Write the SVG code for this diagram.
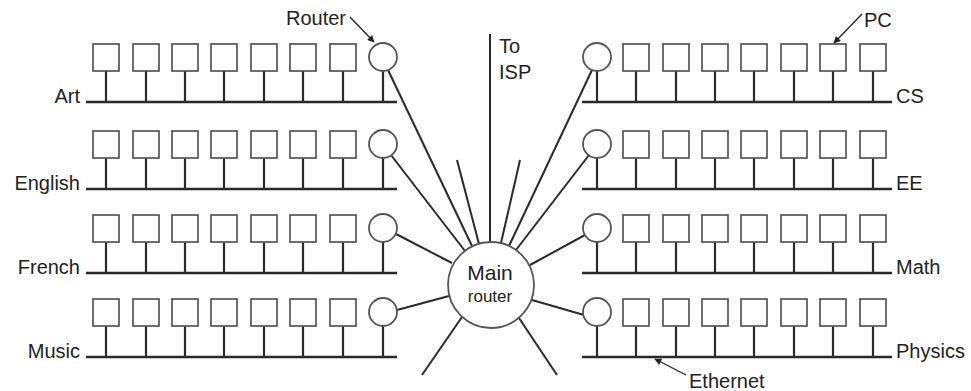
<svg xmlns="http://www.w3.org/2000/svg" xmlns:xlink="http://www.w3.org/1999/xlink" width="971" height="391" viewBox="0 0 971 391">
<style>
.bg{fill:#fff}
.box{fill:#fff;stroke:#555;stroke-width:1.7}
.stem{stroke:#2a2a2a;stroke-width:2.2}
.bus{stroke:#2a2a2a;stroke-width:2.6}
.rt{fill:#fff;stroke:#555;stroke-width:1.8}
.wire{stroke:#2a2a2a;stroke-width:2;fill:none}
.lead{stroke:#2a2a2a;stroke-width:1.4;fill:none}
text{font-family:"Liberation Sans",Arial,Helvetica,sans-serif;fill:#222;font-size:20px}
.end{text-anchor:end}
.mid{text-anchor:middle}
</style>
<defs>
<g id="pc"><line class="stem" x1="0" y1="27" x2="0" y2="58"/><rect class="box" x="-13" y="0" width="26" height="27"/></g>
<g id="rtr"><line class="stem" x1="0" y1="27" x2="0" y2="58"/><circle class="rt" cx="0" cy="13" r="14"/></g>
<marker id="ah" viewBox="0 0 10 10" refX="9" refY="5" markerWidth="9" markerHeight="7" markerUnits="userSpaceOnUse" orient="auto"><path d="M0,0 L10,5 L0,10 z" fill="#222"/></marker>
</defs>
<rect class="bg" x="0" y="0" width="971" height="391"/>

<g id="connectors">
<line class="wire" x1="490" y1="34" x2="490" y2="242"/>
<line class="wire" x1="388" y1="70" x2="472" y2="246"/>
<line class="wire" x1="391" y1="155" x2="465" y2="251"/>
<line class="wire" x1="457" y1="160" x2="479" y2="244"/>
<line class="wire" x1="520" y1="160" x2="501" y2="243"/>
<line class="wire" x1="592" y1="70" x2="509" y2="246"/>
<line class="wire" x1="589" y1="155" x2="516" y2="250"/>
<line class="wire" x1="396" y1="234" x2="452" y2="263"/>
<line class="wire" x1="397" y1="310" x2="449" y2="296"/>
<line class="wire" x1="585" y1="235" x2="530" y2="265"/>
<line class="wire" x1="584" y1="315" x2="532" y2="300"/>
<line class="wire" x1="462" y1="317" x2="422" y2="375"/>
<line class="wire" x1="519" y1="318" x2="557" y2="375"/>
<line class="lead" x1="350" y1="17" x2="374" y2="42" marker-end="url(#ah)"/>
<line class="lead" x1="862" y1="14" x2="834" y2="43" marker-end="url(#ah)"/>
<line class="lead" x1="686" y1="375" x2="655" y2="359" marker-end="url(#ah)"/>
</g>

<g id="main-router">
<circle class="rt" cx="491" cy="285" r="43"/>
<text class="mid" x="490" y="280" style="font-size:21px">Main</text>
<text class="mid" x="490" y="302" style="font-size:17px">router</text>
</g>

<g id="lan-art">
<line class="bus" x1="86" y1="102" x2="397" y2="102"/>
<use id="art-pc1" xlink:href="#pc" x="106" y="44"/><use id="art-pc2" xlink:href="#pc" x="146" y="44"/><use id="art-pc3" xlink:href="#pc" x="185" y="44"/><use id="art-pc4" xlink:href="#pc" x="224" y="44"/><use id="art-pc5" xlink:href="#pc" x="264" y="44"/><use id="art-pc6" xlink:href="#pc" x="303" y="44"/><use id="art-pc7" xlink:href="#pc" x="343" y="44"/>
<use id="art-router" xlink:href="#rtr" x="383" y="44"/>
<text class="end" x="80" y="103">Art</text>
</g>
<g id="lan-english">
<line class="bus" x1="86" y1="189" x2="397" y2="189"/>
<use id="english-pc1" xlink:href="#pc" x="106" y="131"/><use id="english-pc2" xlink:href="#pc" x="146" y="131"/><use id="english-pc3" xlink:href="#pc" x="185" y="131"/><use id="english-pc4" xlink:href="#pc" x="224" y="131"/><use id="english-pc5" xlink:href="#pc" x="264" y="131"/><use id="english-pc6" xlink:href="#pc" x="303" y="131"/><use id="english-pc7" xlink:href="#pc" x="343" y="131"/>
<use id="english-router" xlink:href="#rtr" x="383" y="131"/>
<text class="end" x="80" y="190">English</text>
</g>
<g id="lan-french">
<line class="bus" x1="86" y1="273" x2="397" y2="273"/>
<use id="french-pc1" xlink:href="#pc" x="106" y="215"/><use id="french-pc2" xlink:href="#pc" x="146" y="215"/><use id="french-pc3" xlink:href="#pc" x="185" y="215"/><use id="french-pc4" xlink:href="#pc" x="224" y="215"/><use id="french-pc5" xlink:href="#pc" x="264" y="215"/><use id="french-pc6" xlink:href="#pc" x="303" y="215"/><use id="french-pc7" xlink:href="#pc" x="343" y="215"/>
<use id="french-router" xlink:href="#rtr" x="383" y="215"/>
<text class="end" x="80" y="274">French</text>
</g>
<g id="lan-music">
<line class="bus" x1="86" y1="357" x2="397" y2="357"/>
<use id="music-pc1" xlink:href="#pc" x="106" y="299"/><use id="music-pc2" xlink:href="#pc" x="146" y="299"/><use id="music-pc3" xlink:href="#pc" x="185" y="299"/><use id="music-pc4" xlink:href="#pc" x="224" y="299"/><use id="music-pc5" xlink:href="#pc" x="264" y="299"/><use id="music-pc6" xlink:href="#pc" x="303" y="299"/><use id="music-pc7" xlink:href="#pc" x="343" y="299"/>
<use id="music-router" xlink:href="#rtr" x="383" y="299"/>
<text class="end" x="80" y="358">Music</text>
</g>

<g id="lan-cs">
<line class="bus" x1="582" y1="102" x2="892" y2="102"/>
<use id="cs-router" xlink:href="#rtr" x="597" y="44"/>
<use id="cs-pc1" xlink:href="#pc" x="636" y="44"/><use id="cs-pc2" xlink:href="#pc" x="676" y="44"/><use id="cs-pc3" xlink:href="#pc" x="715" y="44"/><use id="cs-pc4" xlink:href="#pc" x="754" y="44"/><use id="cs-pc5" xlink:href="#pc" x="794" y="44"/><use id="cs-pc6" xlink:href="#pc" x="833" y="44"/><use id="cs-pc7" xlink:href="#pc" x="873" y="44"/>
<text x="896" y="103">CS</text>
</g>
<g id="lan-ee">
<line class="bus" x1="582" y1="189" x2="892" y2="189"/>
<use id="ee-router" xlink:href="#rtr" x="597" y="131"/>
<use id="ee-pc1" xlink:href="#pc" x="636" y="131"/><use id="ee-pc2" xlink:href="#pc" x="676" y="131"/><use id="ee-pc3" xlink:href="#pc" x="715" y="131"/><use id="ee-pc4" xlink:href="#pc" x="754" y="131"/><use id="ee-pc5" xlink:href="#pc" x="794" y="131"/><use id="ee-pc6" xlink:href="#pc" x="833" y="131"/><use id="ee-pc7" xlink:href="#pc" x="873" y="131"/>
<text x="896" y="190">EE</text>
</g>
<g id="lan-math">
<line class="bus" x1="582" y1="273" x2="892" y2="273"/>
<use id="math-router" xlink:href="#rtr" x="597" y="215"/>
<use id="math-pc1" xlink:href="#pc" x="636" y="215"/><use id="math-pc2" xlink:href="#pc" x="676" y="215"/><use id="math-pc3" xlink:href="#pc" x="715" y="215"/><use id="math-pc4" xlink:href="#pc" x="754" y="215"/><use id="math-pc5" xlink:href="#pc" x="794" y="215"/><use id="math-pc6" xlink:href="#pc" x="833" y="215"/><use id="math-pc7" xlink:href="#pc" x="873" y="215"/>
<text x="896" y="274">Math</text>
</g>
<g id="lan-physics">
<line class="bus" x1="582" y1="357" x2="892" y2="357"/>
<use id="physics-router" xlink:href="#rtr" x="597" y="299"/>
<use id="physics-pc1" xlink:href="#pc" x="636" y="299"/><use id="physics-pc2" xlink:href="#pc" x="676" y="299"/><use id="physics-pc3" xlink:href="#pc" x="715" y="299"/><use id="physics-pc4" xlink:href="#pc" x="754" y="299"/><use id="physics-pc5" xlink:href="#pc" x="794" y="299"/><use id="physics-pc6" xlink:href="#pc" x="833" y="299"/><use id="physics-pc7" xlink:href="#pc" x="873" y="299"/>
<text x="896" y="358">Physics</text>
</g>

<g id="labels">
<text class="end" x="346" y="25">Router</text>
<text x="864" y="27">PC</text>
<text x="689" y="388">Ethernet</text>
<text x="499" y="53">To</text>
<text x="499" y="79">ISP</text>
</g>
</svg>
